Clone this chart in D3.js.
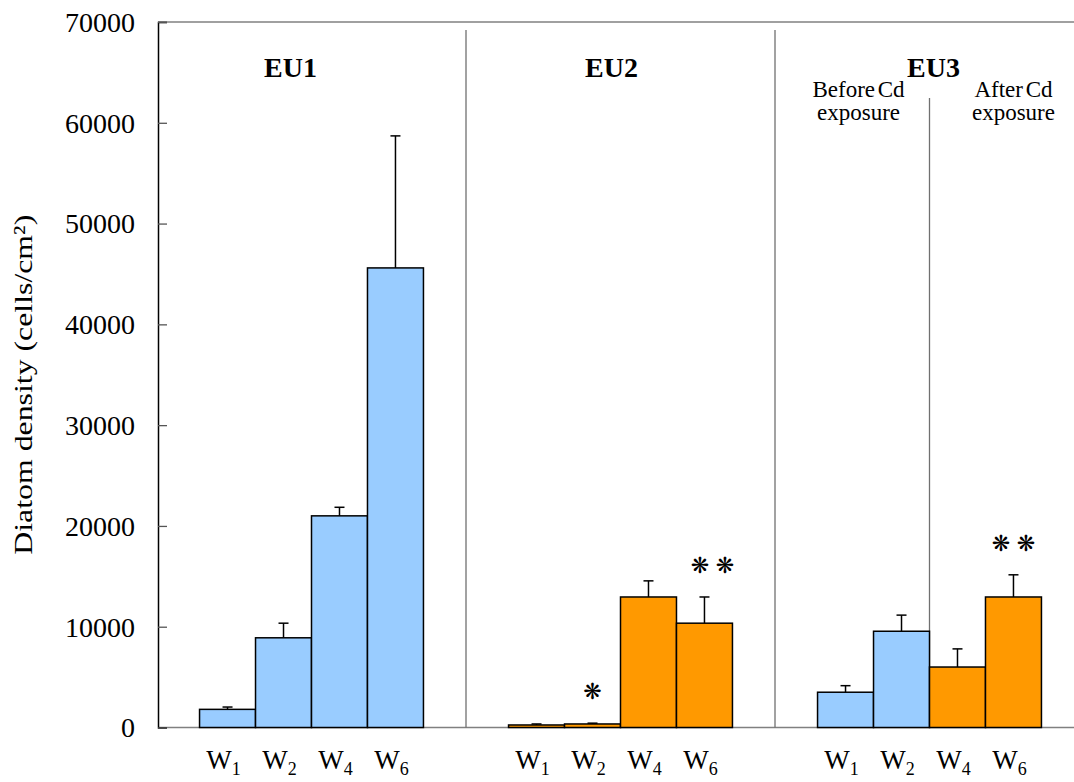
<!DOCTYPE html>
<html>
<head>
<meta charset="utf-8">
<script src="https://cdn.jsdelivr.net/npm/d3@7"></script>
<style>
  html, body { margin: 0; padding: 0; background: #fff; }
  svg { display: block; }
  text { font-family: "Liberation Serif", "Times New Roman", serif; fill: #000; }
</style>
</head>
<body>
<svg id="chart" width="1074" height="782"></svg>
<script>
// ---- data ----
const groups = ["EU1", "EU2", "EU3"];
const weeks = ["W1", "W2", "W4", "W6"];
const weekSubs = ["1", "2", "4", "6"];
const yTicks = [0, 10000, 20000, 30000, 40000, 50000, 60000, 70000];

const eu1Values = [1800, 8900, 21000, 45600];
const eu1Errors = [230, 1450, 850, 13100];
const eu2Values = [250, 350, 12950, 10350];
const eu2Errors = [100, 80, 1600, 2600];
const eu3Values = [3500, 9550, 6000, 12950];
const eu3Errors = [650, 1600, 1800, 2200];

// exposure phase of each bar: "before" = no Cd, "after" = Cd exposed
const eu1Phase = ["before", "before", "before", "before"];
const eu2Phase = ["after", "after", "after", "after"];
const eu3Phase = ["before", "before", "after", "after"];

// significance marks
const eu1Sig = ["", "", "", ""];
const eu2Sig = ["", "*", "", "**"];
const eu3Sig = ["", "", "", "**"];

(function () {
const phaseColor = { before: "#99CCFF", after: "#FF9900" };

const series = [
  { group: "EU1", values: eu1Values, errors: eu1Errors, phase: eu1Phase, sig: eu1Sig },
  { group: "EU2", values: eu2Values, errors: eu2Errors, phase: eu2Phase, sig: eu2Sig },
  { group: "EU3", values: eu3Values, errors: eu3Errors, phase: eu3Phase, sig: eu3Sig }
];

const bars = [];
series.forEach(s => weeks.forEach((w, i) => bars.push({
  group: s.group, week: w, sub: weekSubs[i], value: s.values[i], err: s.errors[i],
  phase: s.phase[i], sig: s.sig[i]
})));

// ---- layout ----
const svg = d3.select("#chart");
const pL = 158, pR = 1074, pT = 22, pB = 727.5;

const y = d3.scaleLinear().domain([0, 70000]).range([pB, pT]);
const xg = d3.scaleBand().domain(groups).range([157, 1084]).padding(0);
const xw = d3.scaleBand().domain(weeks).range([0, xg.bandwidth()]).paddingInner(0).paddingOuter(0.76);
const xb = d => xg(d.group) + xw(d.week);
const xc = (g, w) => xg(g) + xw(w) + xw.bandwidth() / 2;

// frame lines
svg.append("line").attr("x1", pL).attr("x2", pR).attr("y1", pT).attr("y2", pT)
  .attr("stroke", "#808080").attr("stroke-width", 1.5);
svg.append("line").attr("x1", pL).attr("x2", pR).attr("y1", pB).attr("y2", pB)
  .attr("stroke", "#808080").attr("stroke-width", 1.5);

// group dividers
groups.slice(1).forEach(g => {
  svg.append("line").attr("x1", xg(g)).attr("x2", xg(g)).attr("y1", 30).attr("y2", pB)
    .attr("stroke", "#707070").attr("stroke-width", 1.3);
});
// EU3 before/after divider
const midX = xg("EU3") + xw("W4");
svg.append("line").attr("x1", midX).attr("x2", midX).attr("y1", 98).attr("y2", pB)
  .attr("stroke", "#707070").attr("stroke-width", 1.3);

// y axis
const yAxis = d3.axisRight(y).tickValues(yTicks).tickSize(9).tickFormat("");
const ax = svg.append("g").attr("transform", `translate(${pL},0)`).call(yAxis);
ax.select(".domain").attr("stroke", "#000").attr("stroke-width", 1.5);
ax.selectAll(".tick line").attr("stroke", "#555").attr("stroke-width", 1.3);

svg.append("g").selectAll("text").data(yTicks).join("text")
  .attr("x", 135).attr("y", d => y(d)).attr("dy", "0.35em")
  .attr("text-anchor", "end").attr("font-size", 28)
  .text(d => d);

// y title
svg.append("text")
  .attr("transform", `translate(32,${(pT + pB) / 2 + 10}) rotate(-90)`)
  .attr("text-anchor", "middle").attr("font-size", 26)
  .attr("textLength", 340).attr("lengthAdjust", "spacingAndGlyphs")
  .text("Diatom density (cells/cm²)");

// bars
svg.append("g").selectAll("rect").data(bars).join("rect")
  .attr("x", d => xb(d)).attr("width", xw.bandwidth())
  .attr("y", d => y(d.value)).attr("height", d => y(0) - y(d.value))
  .attr("fill", d => phaseColor[d.phase])
  .attr("stroke", "#000").attr("stroke-width", 1.5);

// error bars (upper only)
const eb = svg.append("g").attr("stroke", "#000").attr("stroke-width", 1.5);
eb.selectAll("line.v").data(bars).join("line").attr("class", "v")
  .attr("x1", d => xb(d) + xw.bandwidth() / 2).attr("x2", d => xb(d) + xw.bandwidth() / 2)
  .attr("y1", d => y(d.value)).attr("y2", d => y(d.value + d.err));
eb.selectAll("line.c").data(bars).join("line").attr("class", "c")
  .attr("x1", d => xb(d) + xw.bandwidth() / 2 - 5).attr("x2", d => xb(d) + xw.bandwidth() / 2 + 5)
  .attr("y1", d => y(d.value + d.err)).attr("y2", d => y(d.value + d.err));

// significance asterisks
const sigData = [];
bars.filter(d => d.sig).forEach(d => {
  const n = d.sig.length;
  const cx = xb(d) + xw.bandwidth() / 2 + (n > 1 && d.group === "EU2" ? 8 : 0);
  for (let k = 0; k < n; k++) {
    sigData.push({ x: cx + (k - (n - 1) / 2) * 25, y: y(d.value + d.err) - 32 });
  }
});
svg.append("g").selectAll("text").data(sigData).join("text")
  .attr("x", d => d.x).attr("y", d => d.y).attr("dy", "0.35em")
  .attr("text-anchor", "middle").attr("font-size", 22)
  .style("font-family", "DejaVu Sans")
  .text("❋");

// week labels
const wl = svg.append("g").selectAll("text").data(bars).join("text")
  .attr("x", d => xb(d) + xw.bandwidth() / 2 - 4).attr("y", 769)
  .attr("text-anchor", "middle").attr("font-size", 27);
wl.append("tspan").text("W");
wl.append("tspan").attr("dy", 6).attr("font-size", 18).text(d => d.sub);

// group labels
const groupDx = { EU1: -21, EU2: -9, EU3: 4 };
svg.append("g").selectAll("text").data(groups).join("text")
  .attr("x", d => xg(d) + xg.bandwidth() / 2 + groupDx[d]).attr("y", 77)
  .attr("text-anchor", "middle").attr("font-size", 28).attr("font-weight", "bold")
  .text(d => d);

// EU3 phase notes
const notes = [
  { lines: ["Before Cd", "exposure"], x: xc("EU3", "W1") + 13 },
  { lines: ["After Cd", "exposure"], x: xc("EU3", "W6") }
];
notes.forEach(n => {
  const t = svg.append("text").attr("text-anchor", "middle").attr("font-size", 23)
    .style("word-spacing", "-3px");
  n.lines.forEach((l, i) => t.append("tspan").attr("x", n.x).attr("y", 97 + i * 23).text(l));
});
})();
</script>
</body>
</html>
